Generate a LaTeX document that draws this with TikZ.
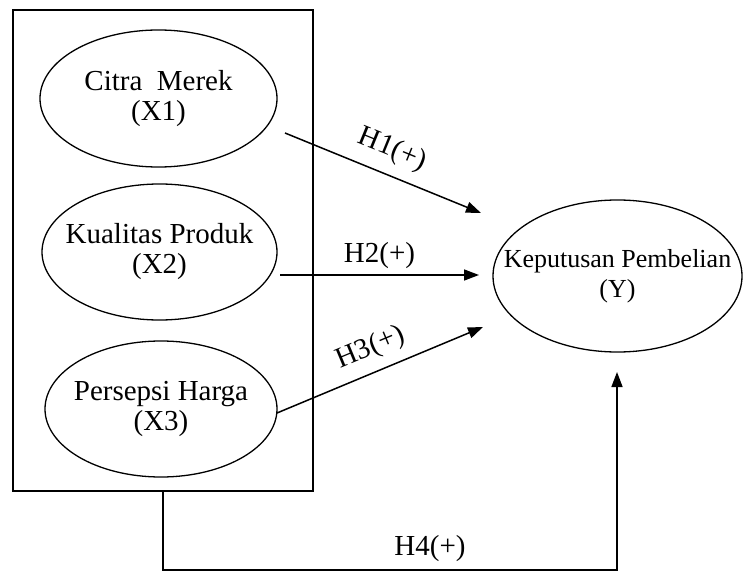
\documentclass[tikz,border=0pt]{standalone}
\usepackage{fontspec}
\setmainfont{Liberation Serif}
\usetikzlibrary{shapes.geometric,arrows.meta}
\begin{document}
\begin{tikzpicture}[x=1pt,y=-1pt,
  oval/.style={draw, ellipse, line width=1.3pt, inner sep=0pt},
  lbl/.style={align=center, font=\fontsize{29}{30}\selectfont, inner sep=0pt},
  lbly/.style={align=center, font=\fontsize{26}{30}\selectfont, inner sep=0pt},
  hlbl/.style={font=\fontsize{29}{30}\selectfont, inner sep=0pt},
  conn/.style={line width=1.5pt, -{Triangle[length=15pt,width=11pt]}},
  frame/.style={draw, line width=1.6pt, inner sep=0pt}]
\useasboundingbox (0,0) rectangle (744,572);
% enclosing box
\node[frame, minimum width=300, minimum height=481] (box) at (163,250.5) {};
% ellipses
\node[oval, minimum width=237, minimum height=137,
  label={[lbl]center:{Citra~~Merek\\(X1)}}] (e1) at (158.5,98.5) {};
\node[oval, minimum width=235, minimum height=136,
  label={[lbl]center:{Kualitas Produk\\(X2)}}] (e2) at (159.5,252) {};
\node[oval, minimum width=232, minimum height=136,
  label={[lbl]center:{Persepsi Harga\\(X3)}}] (e3) at (161,409) {};
\node[oval, minimum width=249, minimum height=152,
  label={[lbly]center:{Keputusan Pembelian\\(Y)}}] (ey) at (617.5,276) {};
% connector end points
\coordinate (s1) at (285,133);
\coordinate (t1) at (481,213);
\coordinate (s2) at (280,275);
\coordinate (t2) at (479,275);
\coordinate (s3) at (277,413);
\coordinate (t3) at (483,327);
\coordinate (c1) at (163,570);
\coordinate (c2) at (617,570);
\coordinate (t4) at (617,372);
% connectors
\draw[conn] (s1) -- node[hlbl, sloped, above=11pt] (h1) {H1(+)} (t1);
\draw[conn] (s2) -- node[hlbl, above=6pt] (h2) {H2(+)} (t2);
\draw[conn] (s3) -- node[hlbl, sloped, above=10pt, pos=0.5] (h3) {H3(+)} (t3);
\draw[conn] (box.south -| c1) -- (c1) -- (c2) -- (t4);
\node[hlbl] (h4) at (430,549) {H4(+)};
\end{tikzpicture}
\end{document}
